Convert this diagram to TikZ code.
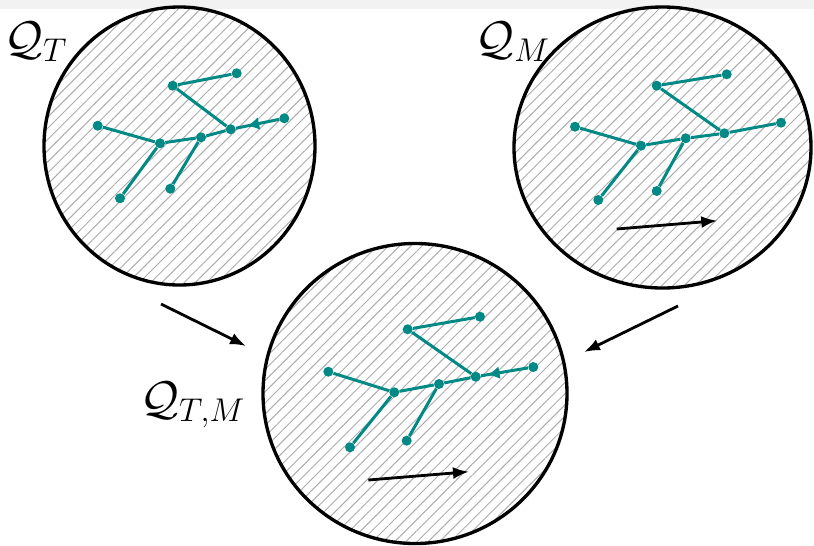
\documentclass[tikz,border=0pt]{standalone}
\usetikzlibrary{patterns.meta,decorations.markings,arrows.meta}
\definecolor{treeteal}{RGB}{0,137,133}
\definecolor{bandgray}{RGB}{242,242,242}
\tikzset{
  region/.style={line width=1.9pt, pattern={Lines[angle=45,distance=4.5pt,line width=0.55pt]}, pattern color=gray!65},
  vtx/.style={circle, fill=treeteal, inner sep=0pt, minimum size=0.2cm},
  branch/.style={treeteal, line width=1.7pt},
  backarrow/.style={postaction={decorate}, decoration={markings, mark=at position #1 with {\arrow{Latex[length=0.24cm,width=0.26cm]}}}},
  flow/.style={-{Latex[length=0.32cm,width=0.24cm]}, line width=1.6pt},
  setlabel/.style={inner sep=0pt, font=\huge, scale=1.3},
}
\begin{document}
\begin{tikzpicture}[x=0.02cm, y=-0.02cm]
    \useasboundingbox (0,0) rectangle (814,545);
    \fill[bandgray] (0,0) rectangle (814,9);
    % the three regions
    \draw[region] (179.5,146) ellipse [x radius=135.5, y radius=139];
    \draw[region] (662.5,147.5) ellipse [x radius=148.5, y radius=140.5];
    \draw[region] (415,393.5) ellipse [x radius=152, y radius=150];
    \node[setlabel] (lT) at (36,42) {$\mathcal{Q}_T$};
    \node[setlabel] (lM) at (513,42) {$\mathcal{Q}_M$};
    \node[setlabel] (lTM) at (193,405) {$\mathcal{Q}_{T,M}$};
    % tree in Q_T
    \node[vtx] (ta) at (172.7,85.7) {};
    \node[vtx] (tb) at (236.7,73.3) {};
    \node[vtx] (tc) at (97.7,125.7) {};
    \node[vtx] (td) at (160,143.3) {};
    \node[vtx] (te) at (201,137.3) {};
    \node[vtx] (tf) at (230.7,129.3) {};
    \node[vtx] (tg) at (284.3,118.3) {};
    \node[vtx] (th) at (120,198.3) {};
    \node[vtx] (ti) at (170.3,188.7) {};
    \draw[branch] (ta) -- (tb) (ta) -- (tf) (tc) -- (td) -- (te) -- (tf)
        (td) -- (th) (te) -- (ti);
    \draw[branch, backarrow=0.74] (tg) -- (tf);
    % tree in Q_M
    \node[vtx] (ma) at (656.7,85.7) {};
    \node[vtx] (mb) at (726.7,74.3) {};
    \node[vtx] (mc) at (575,126.7) {};
    \node[vtx] (md) at (641,145.7) {};
    \node[vtx] (me) at (685.7,138.3) {};
    \node[vtx] (mf) at (724.3,133.3) {};
    \node[vtx] (mg) at (781,122.7) {};
    \node[vtx] (mh) at (598.3,200) {};
    \node[vtx] (mi) at (656.7,191) {};
    \draw[branch] (ma) -- (mb) (ma) -- (mf) (mc) -- (md) -- (me) -- (mf)
        (md) -- (mh) (me) -- (mi) (mf) -- (mg);
    \coordinate (ms) at (616.7,229);
    \coordinate (mt) at (717.3,220.7);
    \draw[flow] (ms) -- (mt);
    % tree in Q_{T,M}
    \node[vtx] (ca) at (407.7,329.3) {};
    \node[vtx] (cb) at (480,316.7) {};
    \node[vtx] (cc) at (328.3,371.7) {};
    \node[vtx] (cd) at (394.3,392.3) {};
    \node[vtx] (ce) at (439,384) {};
    \node[vtx] (cf) at (475.7,376.7) {};
    \node[vtx] (cg) at (533.3,367) {};
    \node[vtx] (ch) at (350,447.3) {};
    \node[vtx] (ci) at (406.7,440.7) {};
    \draw[branch] (ca) -- (cb) (ca) -- (cf) (cc) -- (cd) -- (ce) -- (cf)
        (cd) -- (ch) (ce) -- (ci);
    \draw[branch, backarrow=0.86] (cg) -- (cf);
    \coordinate (cs) at (368.3,480);
    \coordinate (ct) at (469,471.7);
    \draw[flow] (cs) -- (ct);
    % combining arrows
    \coordinate (ls) at (161,304);
    \coordinate (lt) at (246,346);
    \coordinate (rs) at (678,306);
    \coordinate (rt) at (584,352);
    \draw[flow] (ls) -- (lt);
    \draw[flow] (rs) -- (rt);
\end{tikzpicture}
\end{document}
